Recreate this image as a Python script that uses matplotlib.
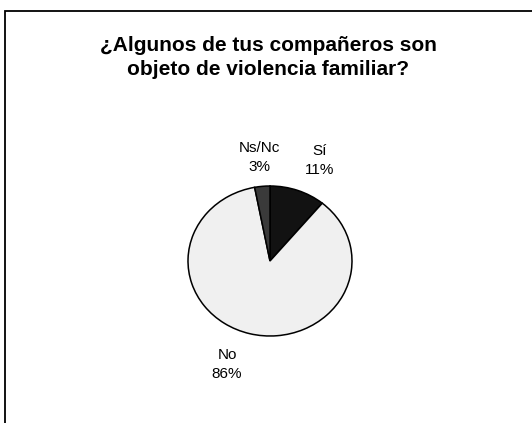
import numpy as np
import matplotlib
matplotlib.use("Agg")
import matplotlib.pyplot as plt
from matplotlib.patches import Rectangle

plt.rcParams['font.family'] = ['Liberation Sans', 'DejaVu Sans']

# datos
categorias = ['Sí', 'No', 'Ns/Nc']
valores = [11, 86, 3]
colores = ['#121212', '#f0f0f0', '#3a3a3a']
titulo = '¿Algunos de tus compañeros son\nobjeto de violencia familiar?'

fig = plt.figure(figsize=(5.32, 4.23), dpi=100)

# marco del grafico
fig.patches.append(Rectangle((5 / 532, -0.1), 1.2, (423 - 11) / 423 + 0.1,
                             transform=fig.transFigure, fill=False,
                             edgecolor='black', linewidth=1.3))

fig.text(268 / 532, 0.864, titulo, ha='center', va='center',
         fontsize=15, fontweight='bold', linespacing=1.35)

ax = fig.add_axes([147 / 532, 42 / 423, 246 / 532, 240 / 423])
wedges, _ = ax.pie(valores, colors=colores, startangle=90, counterclock=False,
                   wedgeprops=dict(edgecolor='black', linewidth=1.1))
ax.set_aspect('auto')
ax.set_xlim(-1.5, 1.5)
ax.set_ylim(-1.6, 1.6)
ax.axis('off')

total = sum(valores)
dist = [1.42, 1.42, 1.38]
dx = [0.12, -0.17, 0.0]
for w, cat, v, d, ox in zip(wedges, categorias, valores, dist, dx):
    ang = np.deg2rad((w.theta1 + w.theta2) / 2)
    x, y = d * np.cos(ang) + ox, d * np.sin(ang)
    ax.text(x, y, f'{cat}\n{round(100 * v / total)}%', ha='center', va='center',
            fontsize=11, linespacing=1.45)

plt.savefig('out.png', dpi=100)
